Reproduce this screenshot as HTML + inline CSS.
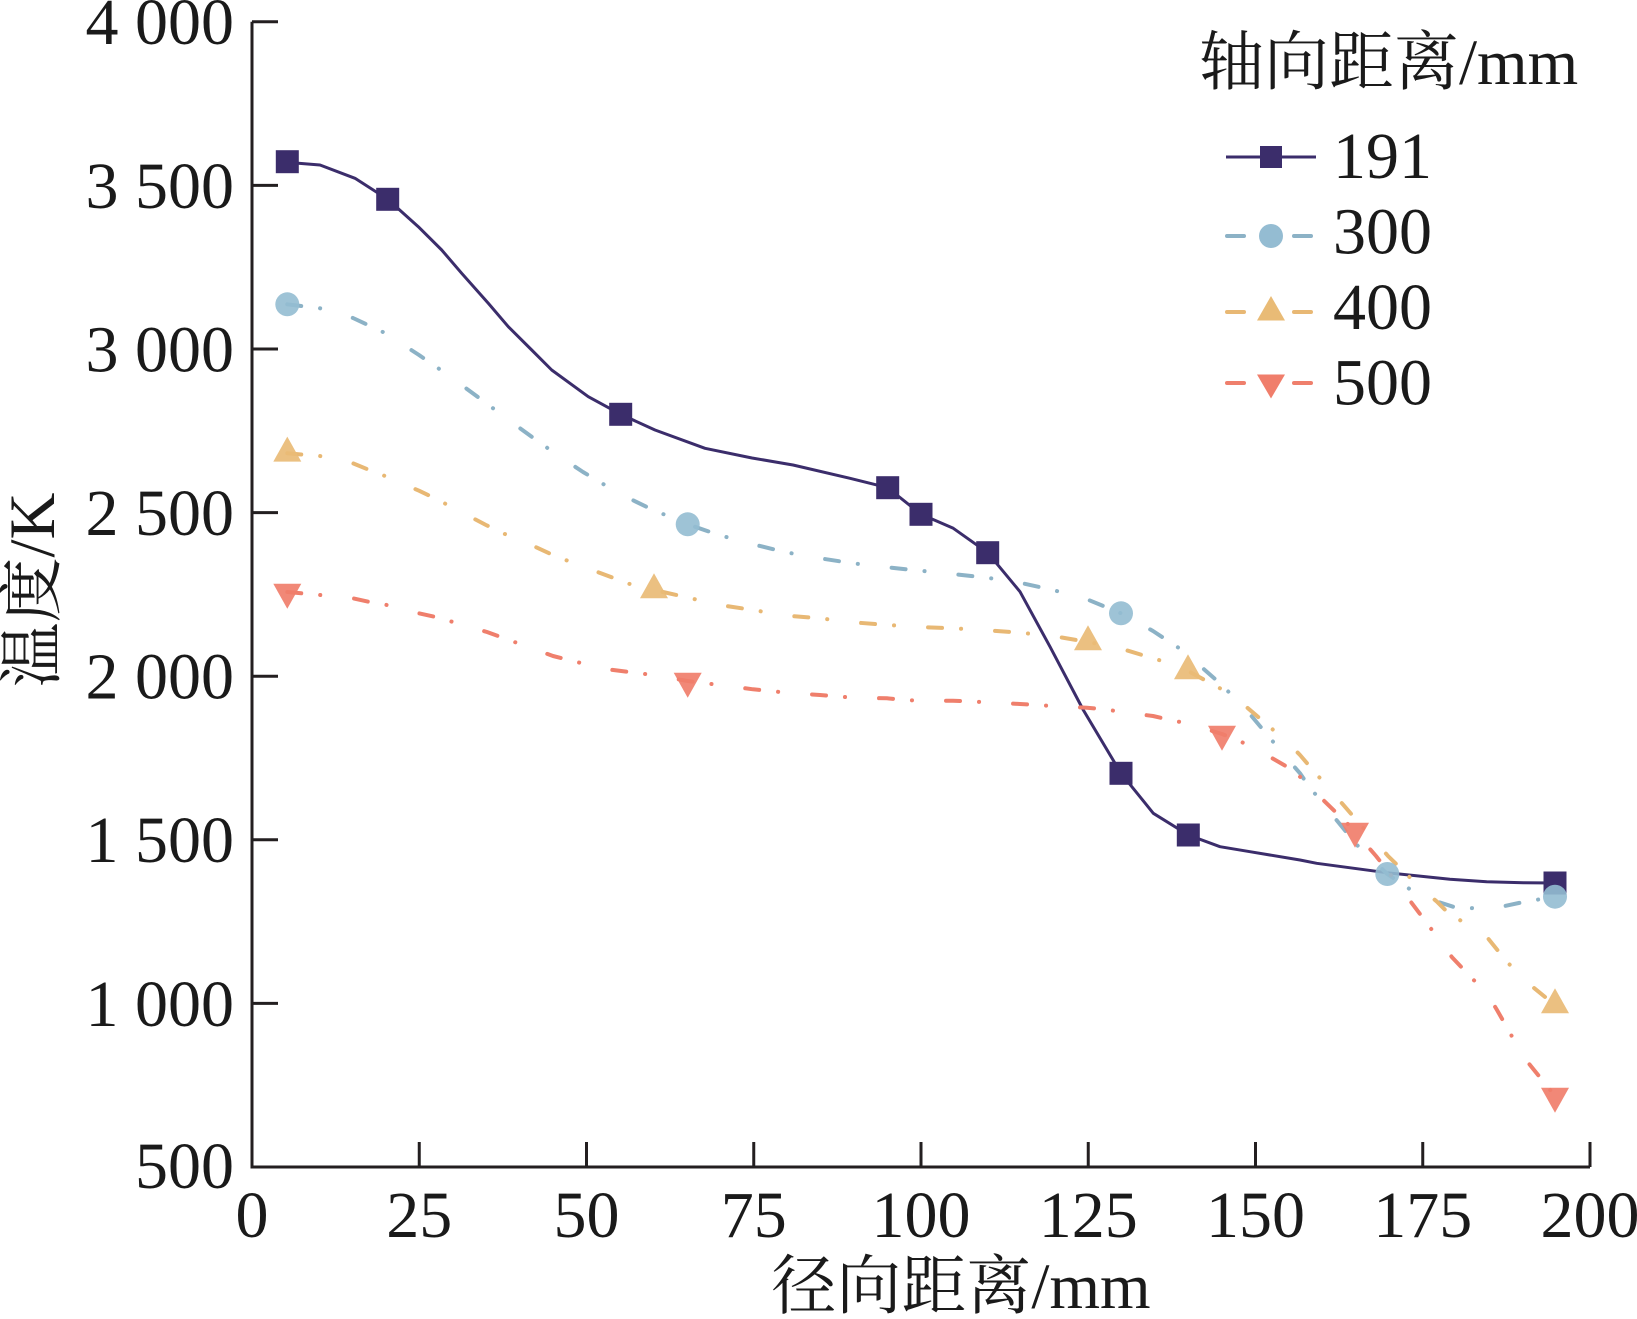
<!DOCTYPE html>
<html>
<head>
<meta charset="utf-8">
<style>
html,body{margin:0;padding:0;background:#fff;}
svg{display:block;}
text{font-family:"Liberation Serif","Noto Serif CJK SC",serif;fill:#1a1a1a;}
</style>
</head>
<body>
<svg width="1637" height="1319" viewBox="0 0 1637 1319" xmlns="http://www.w3.org/2000/svg">
<rect width="1637" height="1319" fill="#fff"/>

<!-- axes -->
<g stroke="#231f20" stroke-width="3" fill="none">
<polyline points="252,21.8 252,1167 1590,1167"/>
<!-- y ticks -->
<line x1="252" y1="21.8" x2="278" y2="21.8"/>
<line x1="252" y1="185.4" x2="278" y2="185.4"/>
<line x1="252" y1="349" x2="278" y2="349"/>
<line x1="252" y1="512.6" x2="278" y2="512.6"/>
<line x1="252" y1="676.2" x2="278" y2="676.2"/>
<line x1="252" y1="839.8" x2="278" y2="839.8"/>
<line x1="252" y1="1003.4" x2="278" y2="1003.4"/>
<!-- x ticks -->
<line x1="419.25" y1="1167" x2="419.25" y2="1142"/>
<line x1="586.5" y1="1167" x2="586.5" y2="1142"/>
<line x1="753.75" y1="1167" x2="753.75" y2="1142"/>
<line x1="921" y1="1167" x2="921" y2="1142"/>
<line x1="1088.25" y1="1167" x2="1088.25" y2="1142"/>
<line x1="1255.5" y1="1167" x2="1255.5" y2="1142"/>
<line x1="1422.75" y1="1167" x2="1422.75" y2="1142"/>
<line x1="1590" y1="1167" x2="1590" y2="1142"/>
</g>

<!-- y tick labels -->
<g font-size="66" text-anchor="end">
<text x="234" y="44">4 000</text>
<text x="234" y="208">3 500</text>
<text x="234" y="371.5">3 000</text>
<text x="234" y="535">2 500</text>
<text x="234" y="698.5">2 000</text>
<text x="234" y="862">1 500</text>
<text x="234" y="1026">1 000</text>
<text x="234" y="1188">500</text>
</g>
<!-- x tick labels -->
<g font-size="66" text-anchor="middle">
<text x="252" y="1237">0</text>
<text x="419.25" y="1237">25</text>
<text x="586.5" y="1237">50</text>
<text x="753.75" y="1237">75</text>
<text x="921" y="1237">100</text>
<text x="1088.25" y="1237">125</text>
<text x="1255.5" y="1237">150</text>
<text x="1422.75" y="1237">175</text>
<text x="1590" y="1237">200</text>
</g>

<!-- axis titles -->
<text x="961" y="1308" font-size="65" text-anchor="middle">径向距离/mm</text>
<text transform="translate(54,590) rotate(-90)" font-size="65" text-anchor="middle">温度/K</text>

<!-- series 191 -->
<polyline fill="none" stroke="#3b2d6b" stroke-width="3" stroke-linejoin="round" points="287.3,161.7 298.3,163.3 320,165 355,178.3 387.7,199.3 418.3,226.7 441.7,250 461.7,273.3 488.3,303.3 508.3,326.7 531.7,350 551.7,370 588.3,396.7 620.7,414.3 655,430 705,448.3 752,458 793,465 850,478.3 887.7,487.7 921,514.3 953.3,528.3 987.7,552.7 1020,591.7 1050,646.7 1083.3,710 1121,773.3 1153.3,813.3 1188.3,835 1220,846.7 1250,851.7 1300,860 1316.7,863.3 1386.7,872.7 1450,879.3 1486.7,881.7 1523.3,882.7 1555,883"/>

<!-- series 300 -->
<polyline fill="none" stroke="#8cb2c6" stroke-width="4" stroke-linecap="round" stroke-linejoin="round" stroke-dasharray="14 19 0.1 34" points="287.3,304.3 320,308.3 353,318 385,333 419,355 448,375 486,403 514,424 553,452 583,472 620,494 651,509 687.7,524.3 719,535 753,544.3 786,552.3 820,558.3 853,563.3 887,567.3 920,570.7 953,574 987,577.7 1020,582.7 1053,590 1087,599.3 1121,613.3 1153,631 1182,650 1220,683.3 1245,708.3 1287,758.3 1300,773.3 1308,785 1320,800 1357,845 1387.3,874 1420,896 1453,906.7 1487,909.3 1505,906 1522,902.3 1555,896.7"/>

<!-- series 400 -->
<polyline fill="none" stroke="#e8b874" stroke-width="4" stroke-linecap="round" stroke-linejoin="round" stroke-dasharray="14 19 0.1 34" points="287.3,453.3 320,456 353,463.3 371,470.7 385,476 419,490.7 437,499.3 451,506.7 486,525 503,533.3 518,539 553,555 570,561.7 585,567.3 619,580 637,586.7 654,590 687,597.3 705,601.7 720,605 753,610 787,615.7 820,618.3 853,622.3 887,625 920,627 953,628.3 987,630.3 1020,632.7 1053,636 1088,642 1120,648.3 1153,658.3 1170,663.3 1188,671 1220,688.3 1237,699.3 1248,708.3 1287,741.7 1300,755 1310,766.7 1355,818.3 1365,830 1377,843.3 1388,856 1422,889.3 1437,901.7 1447,911.7 1488,938.3 1500,953.3 1510,965 1522,978.3 1555,1005"/>

<!-- series 500 -->
<polyline fill="none" stroke="#ef7f6c" stroke-width="4" stroke-linecap="round" stroke-linejoin="round" stroke-dasharray="14 19 0.1 34" points="287.3,592 320,595 353,598.3 371,602.3 387,605 419,613.3 437,617.3 487,632 553,656 605,669 653,675 687.7,681 705,683.3 720,685 753,689.3 787,692.7 820,695 853,697.7 887,698.3 905,700 920,700.7 953,700.7 987,702.3 1020,704 1053,706 1087,707.7 1105,709.3 1120,711.7 1153,716 1170,720 1187,723.3 1222,734 1237,740 1252,746.7 1287,766.7 1302,778.3 1313,790 1355,831 1365,843.3 1376,856 1387,870 1422,916.7 1432,930 1442,942.7 1452,957.3 1488,995 1497,1010 1505,1024 1513,1038.3 1522,1055 1555,1096"/>

<!-- markers 191 -->
<g fill="#3b2d6b">
<rect x="275.8" y="150.2" width="23" height="23"/>
<rect x="376.2" y="187.8" width="23" height="23"/>
<rect x="609.2" y="402.8" width="23" height="23"/>
<rect x="876.2" y="476.2" width="23" height="23"/>
<rect x="909.5" y="502.8" width="23" height="23"/>
<rect x="976.2" y="541.2" width="23" height="23"/>
<rect x="1109.5" y="761.8" width="23" height="23"/>
<rect x="1176.8" y="823.5" width="23" height="23"/>
<rect x="1543.5" y="871.5" width="23" height="23"/>
</g>
<!-- markers 300 -->
<g fill="#94bcd2" fill-opacity="0.9">
<circle cx="287.3" cy="304.3" r="12"/>
<circle cx="687.7" cy="524.3" r="12"/>
<circle cx="1121" cy="613.3" r="12"/>
<circle cx="1387.3" cy="874" r="12"/>
<circle cx="1555" cy="896.7" r="12"/>
</g>
<!-- markers 400 (triangle up) -->
<g fill="#e9bb76" fill-opacity="0.92">
<polygon points="287.3,436.6 301.3,461.6 273.3,461.6"/>
<polygon points="654,573.3 668,598.3 640,598.3"/>
<polygon points="1088,625.3 1102,650.3 1074,650.3"/>
<polygon points="1188,654.3 1202,679.3 1174,679.3"/>
<polygon points="1555,988.3 1569,1013.3 1541,1013.3"/>
</g>
<!-- markers 500 (triangle down) -->
<g fill="#f07e6b" fill-opacity="0.92">
<polygon points="273.3,583.7 301.3,583.7 287.3,608.7"/>
<polygon points="673.7,672.7 701.7,672.7 687.7,697.7"/>
<polygon points="1208,725.7 1236,725.7 1222,750.7"/>
<polygon points="1341,822.7 1369,822.7 1355,847.7"/>
<polygon points="1541,1087.7 1569,1087.7 1555,1112.7"/>
</g>

<!-- legend -->
<text x="1199" y="84" font-size="65">轴向距离/mm</text>
<g>
<line x1="1226" y1="157" x2="1316" y2="157" stroke="#3b2d6b" stroke-width="3"/>
<rect x="1260" y="146" width="22" height="22" fill="#3b2d6b"/>
<text x="1333" y="178" font-size="66">191</text>

<line x1="1227" y1="236" x2="1244" y2="236" stroke="#8cb2c6" stroke-width="4" stroke-linecap="round"/>
<line x1="1294" y1="236" x2="1311" y2="236" stroke="#8cb2c6" stroke-width="4" stroke-linecap="round"/>
<circle cx="1271" cy="236" r="12" fill="#94bcd2"/>
<text x="1333" y="253.5" font-size="66">300</text>

<line x1="1227" y1="312" x2="1244" y2="312" stroke="#e8b874" stroke-width="4" stroke-linecap="round"/>
<line x1="1294" y1="312" x2="1311" y2="312" stroke="#e8b874" stroke-width="4" stroke-linecap="round"/>
<polygon points="1271,296 1285,320.5 1257,320.5" fill="#e9bb76"/>
<text x="1333" y="329" font-size="66">400</text>

<line x1="1227" y1="383" x2="1244" y2="383" stroke="#ef7f6c" stroke-width="4" stroke-linecap="round"/>
<line x1="1294" y1="383" x2="1311" y2="383" stroke="#ef7f6c" stroke-width="4" stroke-linecap="round"/>
<polygon points="1257,374.5 1285,374.5 1271,398.5" fill="#f07e6b"/>
<text x="1333" y="404.5" font-size="66">500</text>
</g>
</svg>
</body>
</html>
